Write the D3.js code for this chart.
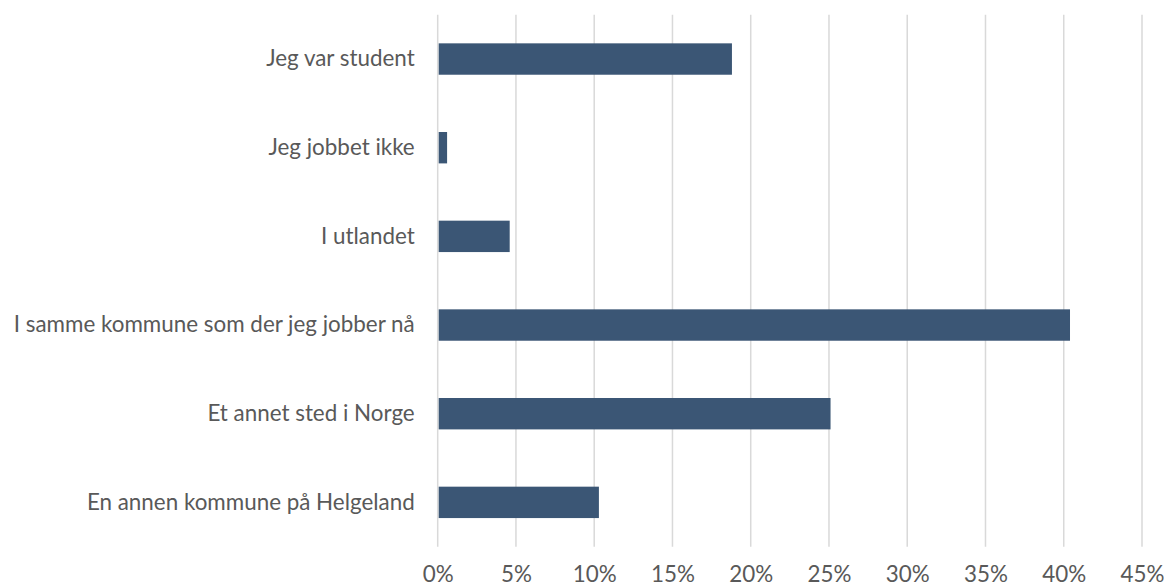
<!DOCTYPE html>
<html>
<head>
<meta charset="utf-8">
<script src="https://cdn.jsdelivr.net/npm/d3@7"></script>
<style>
  html, body { margin: 0; padding: 0; background: #fff; }
  svg { display: block; }
  text { font-family: Lato, "Open Sans", sans-serif; fill: #595959; }
</style>
</head>
<body>
<svg id="chart" width="1164" height="588"></svg>
<script>
// Categories, top to bottom
const categories = [
  "Jeg var student",
  "Jeg jobbet ikke",
  "I utlandet",
  "I samme kommune som der jeg jobber nå",
  "Et annet sted i Norge",
  "En annen kommune på Helgeland"
];
// Share of respondents (%)
const values = [18.8, 0.6, 4.6, 40.4, 25.1, 10.3];
// Axis ticks (%)
const tickValues = [0, 5, 10, 15, 20, 25, 30, 35, 40, 45];

const svg = d3.select("#chart");
const margin = { top: 14.7, right: 22, bottom: 41.3, left: 437.7 };
const W = 1164, H = 588;
const fontSize = 22.4;

const x = d3.scaleLinear()
  .domain([0, 45])
  .range([margin.left, W - margin.right]);

const y = d3.scaleBand()
  .domain(categories)
  .range([margin.top, H - margin.bottom])
  .paddingInner(0.646)
  .paddingOuter(0.323);

// Vertical gridlines
svg.append("g")
  .selectAll("line")
  .data(tickValues)
  .join("line")
  .attr("x1", d => x(d)).attr("x2", d => x(d))
  .attr("y1", margin.top).attr("y2", H - margin.bottom)
  .attr("stroke", "#d9d9d9")
  .attr("stroke-width", 1.5);

// Bars
svg.append("g")
  .selectAll("rect")
  .data(categories)
  .join("rect")
  .attr("x", x(0) + 1)
  .attr("y", d => y(d))
  .attr("width", (d, i) => x(values[i]) - x(0) - 1)
  .attr("height", y.bandwidth())
  .attr("fill", "#3b5675");

// Category labels
const yAxis = d3.axisLeft(y).tickSize(0).tickPadding(23);
const gy = svg.append("g")
  .attr("transform", `translate(${margin.left},0)`)
  .call(yAxis);
gy.select(".domain").remove();
gy.selectAll("text")
  .attr("font-size", fontSize)
  .attr("font-family", "Lato, 'Open Sans', sans-serif")
  .attr("fill", "#595959");

// Percentage tick labels
const xAxis = d3.axisBottom(x)
  .tickValues(tickValues)
  .tickFormat(d => d + "%")
  .tickSize(0)
  .tickPadding(19);
const gx = svg.append("g")
  .attr("transform", `translate(0,${H - margin.bottom})`)
  .call(xAxis);
gx.select(".domain").remove();
gx.selectAll("text")
  .attr("font-size", fontSize)
  .attr("font-family", "Lato, 'Open Sans', sans-serif")
  .attr("fill", "#595959");
</script>
</body>
</html>
